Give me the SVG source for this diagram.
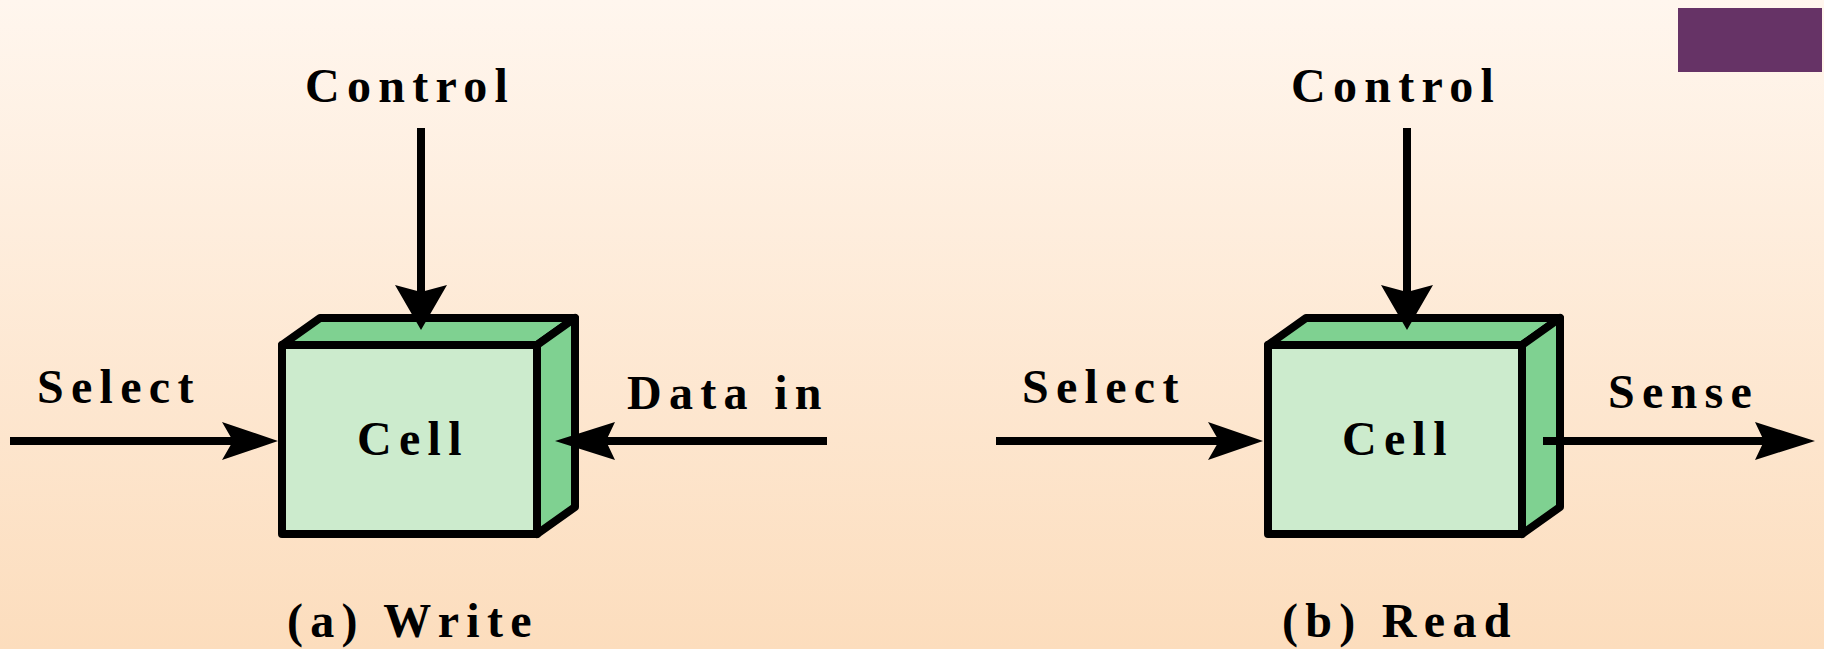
<svg xmlns="http://www.w3.org/2000/svg" width="1824" height="649" viewBox="0 0 1824 649">
<defs>
<linearGradient id="bg" x1="0" y1="0" x2="0" y2="1">
<stop offset="0" stop-color="#FFF6EE"/>
<stop offset="1" stop-color="#FCDDBD"/>
</linearGradient>
<style>
.front{fill:#CCEBCD;stroke:#000;stroke-width:8;stroke-linejoin:round}
.dark{fill:#7FD191;stroke:#000;stroke-width:8;stroke-linejoin:round}
.shaft{stroke:#000;stroke-width:8;fill:none}
.head{fill:#000;stroke:none}
</style>
</defs>
<rect x="0" y="0" width="1824" height="649" fill="url(#bg)"/>
<rect x="1678" y="8" width="144" height="64" fill="#663366"/>

<g font-family="Liberation Serif, Times New Roman, Times, Nimbus Roman, FreeSerif, DejaVu Serif, serif" font-weight="700" font-size="48" letter-spacing="7.3" fill="#000">
<g id="cell-write">
<polygon class="dark" points="282,345 320,318 575,318 537,345"/>
<polygon class="dark" points="537,345 575,318 575,507 537,534"/>
<rect class="front" x="282" y="345" width="255" height="189"/>
<text x="357" y="455">Cell</text>
</g>

<g id="cell-read">
<polygon class="dark" points="1268,345 1306,318 1560,318 1522,345"/>
<polygon class="dark" points="1522,345 1560,318 1560,507 1522,534"/>
<rect class="front" x="1268" y="345" width="254" height="189"/>
<text x="1342" y="455">Cell</text>
</g>

<g id="connectors">
<line class="shaft" x1="421" y1="128" x2="421" y2="294"/>
<polygon class="head" points="421,330 447,285 421,292 395,285"/>
<line class="shaft" x1="10" y1="441" x2="236" y2="441"/>
<polygon class="head" points="278,441 222,422 233,441 222,460"/>
<line class="shaft" x1="827" y1="441" x2="604" y2="441"/>
<polygon class="head" points="555,441 615,422 606,441 615,460"/>

<line class="shaft" x1="1407" y1="128" x2="1407" y2="294"/>
<polygon class="head" points="1407,330 1433,285 1407,292 1381,285"/>
<line class="shaft" x1="996" y1="441" x2="1221" y2="441"/>
<polygon class="head" points="1263,441 1208,422 1219,441 1208,460"/>
<line class="shaft" x1="1543" y1="441" x2="1766" y2="441"/>
<polygon class="head" points="1815,441 1755,422 1764,441 1755,460"/>
</g>

<g id="labels">
<text x="305" y="102">Control</text>
<text x="1291" y="102">Control</text>
<text x="37" y="403">Select</text>
<text x="1022" y="403">Select</text>
<text x="627" y="409">Data in</text>
<text x="1608" y="408">Sense</text>
<text x="287" y="637">(a) Write</text>
<text x="1282" y="637">(b) Read</text>
</g>
</g>
</svg>
